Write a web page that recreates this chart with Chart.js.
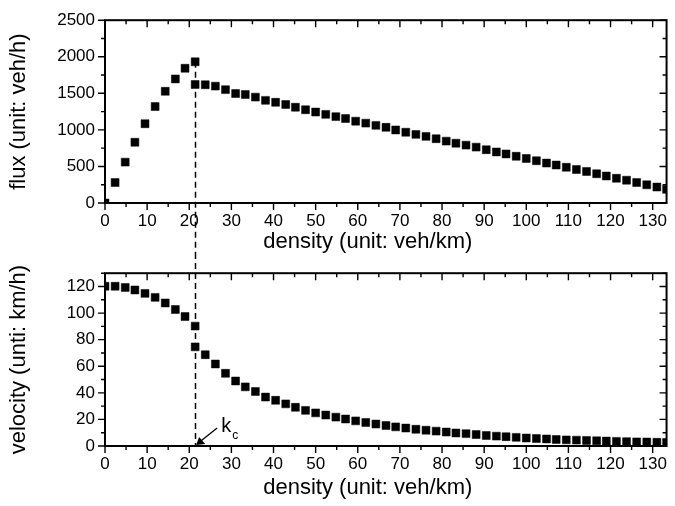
<!DOCTYPE html>
<html>
<head>
<meta charset="utf-8">
<script src="https://cdn.jsdelivr.net/npm/chart.js@4/dist/chart.umd.min.js"></script>
<style>
  body { margin: 0; background: #fff; }
  #wrap { position: relative; width: 675px; height: 506px; }
  canvas { position: absolute; left: 0; }
</style>
</head>
<body>
<div id="wrap">
  <canvas id="fluxChart" width="675" height="253" style="top:0"></canvas>
  <canvas id="speedChart" width="675" height="253" style="top:253px"></canvas>
</div>
<script>
// density samples (veh/km); the critical density appears twice (two branches)
const density = [0, 2.4, 4.8, 7.1, 9.5, 11.9, 14.3, 16.7, 19.0, 21.4, 21.4, 23.8, 26.2, 28.6,
  31.0, 33.3, 35.7, 38.1, 40.5, 42.9, 45.2, 47.6, 50.0, 52.4, 54.8, 57.1, 59.5, 61.9, 64.3,
  66.7, 69.0, 71.4, 73.8, 76.2, 78.6, 81.0, 83.3, 85.7, 88.1, 90.5, 92.9, 95.2, 97.6, 100.0,
  102.4, 104.8, 107.1, 109.5, 111.9, 114.3, 116.7, 119.0, 121.4, 123.8, 126.2, 128.6, 131.0, 133.3];

// flux (veh/h)
const flux = [0, 280, 559, 831, 1084, 1319, 1528, 1697, 1843, 1931, 1621, 1617, 1598, 1550,
  1497, 1484, 1448, 1404, 1377, 1348, 1310, 1275, 1244, 1212, 1181, 1155, 1119, 1092, 1062,
  1035, 999, 968, 938, 911, 879, 846, 818, 791, 764, 729, 698, 671, 639, 609,
  578, 546, 519, 489, 458, 431, 400, 369, 338, 312, 280, 249, 218, 186];

// velocity (km/h)
const velocity = [120.2, 120.2, 119.3, 117.4, 114.8, 111.8, 107.6, 102.7, 97.4, 90.2, 74.6, 68.7, 61.7, 54.7,
  48.9, 44.5, 41.0, 36.8, 34.4, 31.7, 29.1, 26.8, 24.9, 23.3, 21.7, 20.3, 18.9, 17.7, 16.5,
  15.4, 14.4, 13.5, 12.6, 11.9, 11.2, 10.5, 9.8, 9.3, 8.6, 7.9, 7.4, 7.0, 6.5, 6.0,
  5.6, 5.3, 4.9, 4.6, 4.4, 4.2, 3.9, 3.7, 3.5, 3.3, 3.1, 3.0, 2.8, 2.7];

const densityTicks = [0, 10, 20, 30, 40, 50, 60, 70, 80, 90, 100, 110, 120, 130];
const fluxTicks = [0, 500, 1000, 1500, 2000, 2500];
const velocityTicks = [0, 20, 40, 60, 80, 100, 120];

const densityMax = 133.3;
const fluxMax = 2500;
const velocityMax = 130;
const criticalDensity = 21.4;
const peakFlux = 1931;

const FONT = 'Arial, "Liberation Sans", sans-serif';
const densityTitle = 'density (unit: veh/km)';

// half-step ticks between the labelled ones
function minorOf(ticks, max) {
  const step = ticks[1] - ticks[0];
  const out = [];
  for (let i = 0; i < ticks.length; i++) {
    const v = ticks[i] + step / 2;
    if (v <= max + 1e-9) out.push(v);
  }
  return out;
}

// box around the plot, ticks out on bottom/left, mirrored in on top/right,
// plus the density title (sits a little left of the plot centre)
const framePlugin = {
  id: 'frame',
  afterDraw(chart, args, opts) {
    const { ctx, chartArea: a } = chart;
    const x = chart.scales.x, y = chart.scales.y;
    const major = 7, minor = 4;
    ctx.save();
    ctx.strokeStyle = '#000';
    ctx.lineWidth = 2;
    ctx.strokeRect(a.left, a.top, a.right - a.left, a.bottom - a.top);
    ctx.lineWidth = 1.4;
    ctx.beginPath();
    const xt = (vals, len) => vals.forEach(v => {
      const p = x.getPixelForValue(v);
      ctx.moveTo(p, a.bottom); ctx.lineTo(p, a.bottom + len);
      ctx.moveTo(p, a.top); ctx.lineTo(p, a.top + len);
    });
    const yt = (vals, len) => vals.forEach(v => {
      const p = y.getPixelForValue(v);
      ctx.moveTo(a.left - len, p); ctx.lineTo(a.left, p);
      ctx.moveTo(a.right - len, p); ctx.lineTo(a.right, p);
    });
    xt(opts.xTicks, major);
    xt(minorOf(opts.xTicks, x.max), minor);
    yt(opts.yTicks, major);
    yt(minorOf(opts.yTicks, y.max), minor);
    ctx.stroke();

    ctx.fillStyle = '#000';
    ctx.font = '22px ' + FONT;
    ctx.textAlign = 'center';
    ctx.textBaseline = 'middle';
    ctx.fillText(densityTitle, (a.left + a.right) / 2 - 18, a.bottom + opts.titleGap);
    ctx.restore();
  }
};

// dashed marker at the critical density, running through both panels
const criticalPlugin = {
  id: 'critical',
  beforeDatasetsDraw(chart, args, opts) {
    const { ctx } = chart;
    const px = Math.round(chart.scales.x.getPixelForValue(criticalDensity)) + 0.5;
    const y0 = opts.from == null ? 0 : chart.scales.y.getPixelForValue(opts.from);
    const y1 = opts.to == null ? chart.height : chart.scales.y.getPixelForValue(opts.to);
    ctx.save();
    ctx.strokeStyle = '#000';
    ctx.lineWidth = 1.5;
    ctx.setLineDash([6, 4]);
    ctx.beginPath();
    ctx.moveTo(px, y0);
    ctx.lineTo(px, y1);
    ctx.stroke();
    ctx.restore();
  },
  afterDraw(chart, args, opts) {
    if (!opts.label) return;
    const { ctx } = chart;
    const px = chart.scales.x.getPixelForValue(criticalDensity);
    const py = chart.scales.y.getPixelForValue(0);
    ctx.save();
    ctx.strokeStyle = '#000';
    ctx.fillStyle = '#000';
    ctx.lineWidth = 1.3;
    // arrow pointing at the axis crossing
    const tipX = px + 1, tipY = py - 1;
    ctx.beginPath();
    ctx.moveTo(px + 22, py - 18);
    ctx.lineTo(tipX + 4, tipY - 3.5);
    ctx.stroke();
    ctx.beginPath();
    ctx.moveTo(tipX, tipY);
    ctx.lineTo(tipX + 3, tipY - 8);
    ctx.lineTo(tipX + 9, tipY - 1);
    ctx.closePath();
    ctx.fill();
    ctx.textBaseline = 'alphabetic';
    ctx.textAlign = 'left';
    ctx.font = '20px ' + FONT;
    ctx.fillText('k', px + 26, py - 14);
    ctx.font = '12px ' + FONT;
    ctx.fillText('c', px + 37, py - 7);
    ctx.restore();
  }
};

function xScale(height) {
  return {
    type: 'linear', min: 0, max: densityMax,
    afterBuildTicks: s => { s.ticks = densityTicks.map(v => ({ value: v })); },
    afterFit: s => { s.height = height; },
    grid: { display: false, drawTicks: false },
    border: { display: false },
    ticks: { color: '#000', font: { family: FONT, size: 17 }, padding: 8, maxRotation: 0,
      autoSkip: false, callback: v => String(v) }
  };
}

function yScale(max, ticks, title) {
  return {
    type: 'linear', min: 0, max: max,
    afterBuildTicks: s => { s.ticks = ticks.map(v => ({ value: v })); },
    afterFit: s => { s.width = 105; },
    grid: { display: false, drawTicks: false },
    border: { display: false },
    ticks: { color: '#000', font: { family: FONT, size: 17 }, padding: 10, callback: v => String(v) },
    title: { display: true, text: title, color: '#000',
      font: { family: FONT, size: 22 }, padding: { top: 6, bottom: 0 } }
  };
}

function markers(values) {
  return {
    data: density.map((k, i) => ({ x: k, y: values[i] })),
    pointStyle: 'rect',
    pointRadius: 5.6,
    backgroundColor: '#000',
    borderColor: '#000',
    borderWidth: 0.5,
    showLine: false
  };
}

Chart.defaults.font.family = FONT;

new Chart(document.getElementById('fluxChart'), {
  type: 'scatter',
  data: { datasets: [markers(flux)] },
  options: {
    responsive: false,
    animation: false,
    layout: { padding: { left: 0, right: 4, top: 15, bottom: 0 } },
    scales: {
      x: xScale(50),
      y: yScale(fluxMax, fluxTicks, 'flux (unit: veh/h)')
    },
    plugins: {
      legend: { display: false },
      tooltip: { enabled: false },
      frame: { xTicks: densityTicks, yTicks: fluxTicks, titleGap: 39 },
      critical: { from: peakFlux, to: null, label: false }
    }
  },
  plugins: [framePlugin, criticalPlugin]
});

new Chart(document.getElementById('speedChart'), {
  type: 'scatter',
  data: { datasets: [markers(velocity)] },
  options: {
    responsive: false,
    animation: false,
    layout: { padding: { left: 0, right: 4, top: 7, bottom: 0 } },
    scales: {
      x: xScale(60),
      y: yScale(velocityMax, velocityTicks, 'velocity (unti: km/h)')
    },
    plugins: {
      legend: { display: false },
      tooltip: { enabled: false },
      frame: { xTicks: densityTicks, yTicks: velocityTicks, titleGap: 42 },
      critical: { from: null, to: 0, label: true }
    }
  },
  plugins: [framePlugin, criticalPlugin]
});
</script>
</body>
</html>
